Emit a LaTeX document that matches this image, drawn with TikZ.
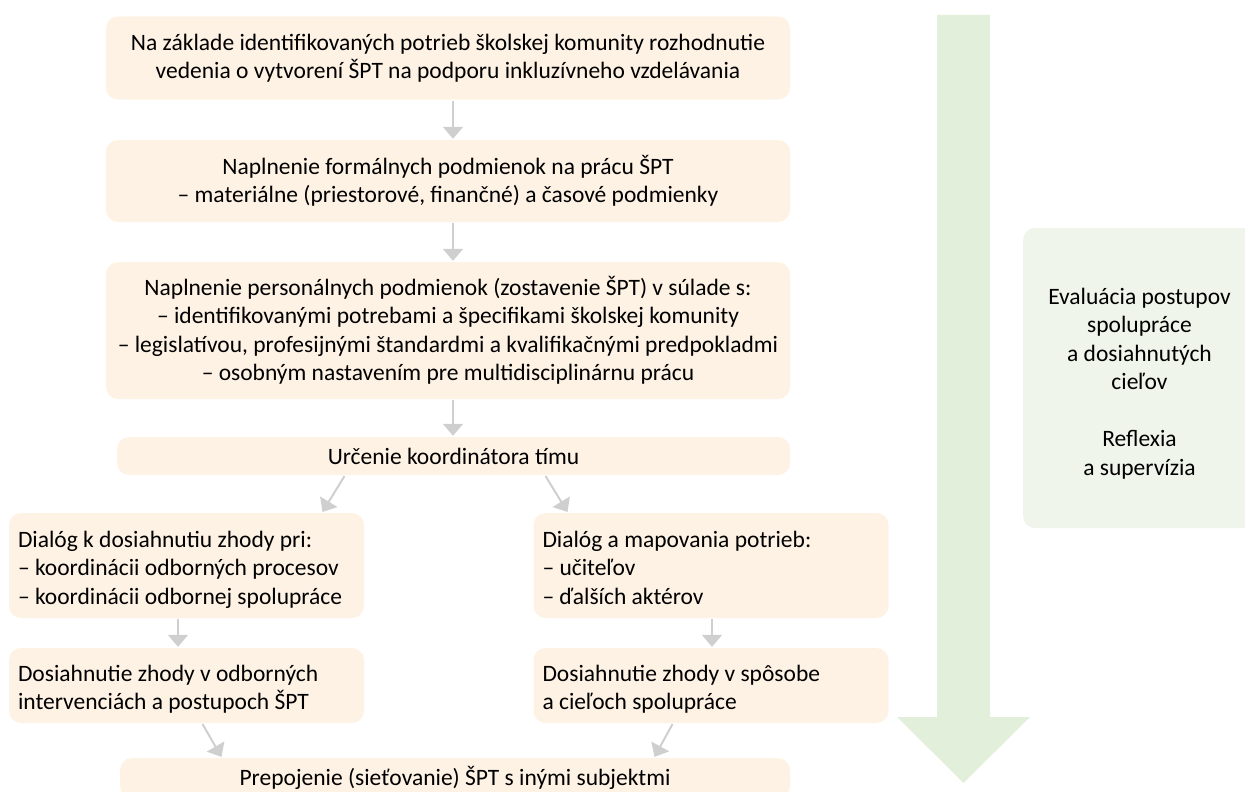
\documentclass[tikz,border=0pt]{standalone}
\usepackage{fontspec}
\setmainfont{Carlito}
\usetikzlibrary{arrows.meta}

\definecolor{peach}{HTML}{FEF2E4}
\definecolor{palegreen}{HTML}{EFF5EA}
\definecolor{arrowgreen}{HTML}{E2EFDA}
\definecolor{conngray}{HTML}{CFCFCF}

\newcommand\topstrut[1]{\rule{0pt}{#1}}
\newcommand\botstrut{\rule[-6.5pt]{0pt}{6.5pt}}

\begin{document}
\begin{tikzpicture}[x=1pt,y=-1pt]
    \tikzset{
        stepbox/.style={fill=peach,rounded corners=12pt,inner sep=0pt,align=center,
            font=\fontsize{23.5}{28.5}\selectfont},
        listbox/.style={stepbox,align=flush left,inner xsep=9pt,text width=337pt,
            minimum width=355pt,execute at begin node=\topstrut{26.5pt},
            execute at end node=\botstrut},
        conn/.style={draw=conngray,line width=2pt,shorten <=1pt,shorten >=1pt,
            -{Triangle[width=20pt,length=12pt]}}
    }
    \useasboundingbox (0,0) rectangle (1245,792);
    % big arrow on the right
    \fill[arrowgreen] (937,15) -- (990,15) -- (990,717) -- (1030,717) -- (963.5,783)
        -- (897,717) -- (937,717) -- cycle;
    \node[fill=palegreen,rounded corners=12pt,minimum width=233pt,minimum height=300pt,
        align=center,font=\fontsize{23.5}{28.5}\selectfont] (eval) at (1139.5,378)
        {\topstrut{30pt}Evaluácia postupov\\spolupráce\\a dosiahnutých\\cieľov\\[28.5pt]
         Reflexia\\a supervízia\botstrut};

    \node[stepbox,minimum width=684pt,minimum height=83pt] (rozhod) at (448,58)
        {Na základe identifikovaných potrieb školskej komunity rozhodnutie\\
         vedenia o vytvorení ŠPT na podporu inkluzívneho vzdelávania};
    \node[stepbox,minimum width=684pt,minimum height=82pt] (formal) at (448,181)
        {Naplnenie formálnych podmienok na prácu ŠPT\\
         -- materiálne (priestorové, finančné) a časové podmienky};
    \node[stepbox,minimum width=684pt,minimum height=137pt] (person) at (448,330.5)
        {Naplnenie personálnych podmienok (zostavenie ŠPT) v súlade s:\\
         -- identifikovanými potrebami a špecifikami školskej komunity\\
         -- legislatívou, profesijnými štandardmi a kvalifikačnými predpokladmi\\
         -- osobným nastavením pre multidisciplinárnu prácu};
    \node[stepbox,minimum width=673pt,minimum height=38pt] (koord) at (453.5,456)
        {Určenie koordinátora tímu};
    \node[listbox,minimum height=105pt] (dialog) at (186.5,565.5)
        {Dialóg k dosiahnutiu zhody pri:\\
         -- koordinácii odborných procesov\\
         -- koordinácii odbornej spolupráce};
    \node[listbox,minimum height=105pt] (mapov) at (711,565.5)
        {Dialóg a mapovania potrieb:\\
         -- učiteľov\\
         -- ďalších aktérov};
    \node[listbox,minimum height=75pt] (zhodaL) at (186.5,685.5)
        {Dosiahnutie zhody v odborných\\
         intervenciách a postupoch ŠPT};
    \node[listbox,minimum height=75pt] (zhodaR) at (711,685.5)
        {Dosiahnutie zhody v spôsobe\\
         a cieľoch spolupráce};
    \node[stepbox,minimum width=670pt,minimum height=40pt] (prepoj) at (455,778)
        {Prepojenie (sieťovanie) ŠPT s inými subjektmi};

    \draw[conn] (rozhod.south -| 453,0) -- (formal.north -| 453,0);
    \draw[conn] (formal.south -| 453,0) -- (person.north -| 453,0);
    \draw[conn] (person.south -| 453,0) -- (koord.north -| 453,0);
    \draw[conn] (koord.south -| 345,0) -- (dialog.north -| 322,0);
    \draw[conn] (koord.south -| 545,0) -- (mapov.north -| 568,0);
    \draw[conn] (dialog.south -| 178,0) -- (zhodaL.north -| 178,0);
    \draw[conn] (mapov.south -| 712,0) -- (zhodaR.north -| 712,0);
    \draw[conn] (zhodaL.south -| 202,0) -- (prepoj.north -| 222,0);
    \draw[conn] (zhodaR.south -| 673,0) -- (prepoj.north -| 654,0);
\end{tikzpicture}
\end{document}
